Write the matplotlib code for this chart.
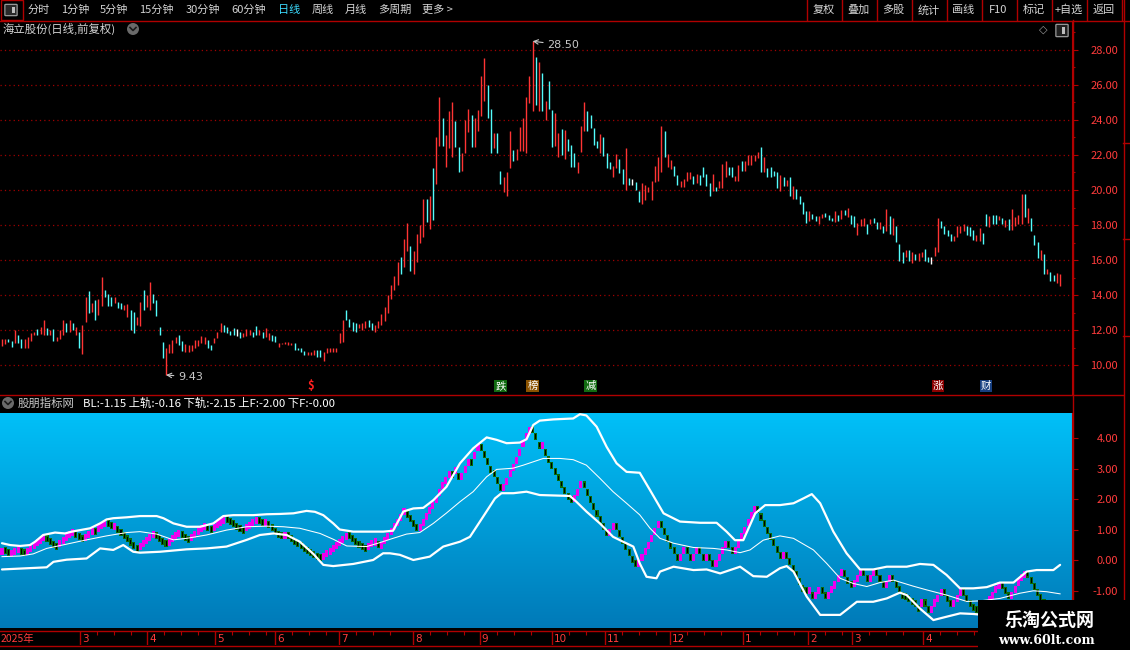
import numpy as np
import matplotlib
matplotlib.use("Agg")
import matplotlib.pyplot as plt
import matplotlib.transforms as mtransforms
from matplotlib.patches import Rectangle, Ellipse, FancyBboxPatch
from matplotlib.lines import Line2D
from matplotlib.ticker import FormatStrFormatter

plt.rcParams['font.family'] = ['Noto Sans CJK SC', 'DejaVu Sans']

# ---------------- daily bars (low / high / colour r=up c=down w=flat) ----------------
bar_low = [
    11.1, 11.2, 11.3, 11.05, 11.25, 11.25, 10.95, 10.95, 10.95, 11.4,
    11.7, 11.7, 11.8, 11.7, 11.7, 11.7, 11.35, 11.35, 11.5, 11.7,
    11.9, 11.9, 12.0, 11.7, 10.95, 10.65, 12.48, 12.95, 13.05, 12.57,
    12.86, 13.37, 13.9, 13.37, 13.37, 13.52, 13.24, 13.18, 13.14, 12.76,
    12.0, 11.85, 12.29, 12.23, 13.14, 13.33, 13.14, 13.52, 12.8, 11.71,
    10.38, 9.43, 10.67, 10.67, 11.24, 11.14, 10.82, 10.76, 10.76, 10.82,
    10.95, 11.09, 11.24, 11.2, 10.95, 10.86, 11.24, 11.52, 11.9, 11.9,
    11.81, 11.71, 11.71, 11.66, 11.52, 11.62, 11.66, 11.71, 11.62, 11.71,
    11.71, 11.52, 11.62, 11.43, 11.39, 11.33, 11.05, 11.2, 11.2, 11.14,
    11.14, 10.86, 10.86, 10.76, 10.57, 10.57, 10.57, 10.57, 10.44, 10.44,
    10.25, 10.7, 10.76, 10.76, 10.76, 11.28, 11.33, 12.57, 12.15, 11.96,
    11.9, 12.1, 12.0, 12.1, 12.2, 12.0, 11.9, 12.1, 12.3, 12.5,
    13.0, 13.8, 14.3, 14.6, 15.2, 15.6, 16.5, 15.4, 15.2, 15.9,
    17.0, 17.3, 18.2, 17.8, 18.3, 20.34, 22.53, 22.53, 21.33, 22.4,
    21.9, 22.44, 21.0, 21.07, 22.1, 23.3, 22.44, 22.44, 23.39, 24.2,
    25.07, 24.11, 22.13, 22.4, 22.13, 20.34, 19.87, 19.68, 21.26, 21.64,
    21.7, 22.21, 22.21, 22.1, 24.95, 24.53, 24.88, 24.53, 24.53, 24.0,
    24.63, 22.44, 22.53, 21.9, 22.02, 21.75, 22.21, 21.3, 21.3, 20.95,
    22.15, 23.39, 23.35, 23.54, 22.59, 22.4, 22.13, 21.96, 21.26, 21.2,
    20.72, 21.26, 20.95, 20.34, 20.0, 20.3, 20.3, 20.0, 19.3, 19.2,
    19.43, 19.9, 19.43, 20.44, 20.53, 21.0, 21.9, 21.3, 21.2, 20.82,
    20.29, 20.15, 20.19, 20.53, 20.63, 20.34, 20.38, 20.29, 20.76, 20.25,
    19.68, 19.92, 19.92, 20.1, 20.1, 20.73, 20.88, 20.77, 20.5, 20.54,
    21.11, 21.11, 21.45, 21.45, 21.64, 21.83, 21.01, 21.01, 20.73, 20.77,
    20.82, 20.1, 19.93, 20.25, 20.25, 19.68, 19.5, 19.46, 19.21, 18.64,
    18.11, 18.22, 18.36, 18.22, 18.07, 18.41, 18.45, 18.3, 18.22, 18.17,
    18.22, 18.32, 18.55, 18.45, 18.03, 17.88, 17.41, 17.97, 17.92, 17.46,
    18.07, 18.11, 17.75, 17.79, 17.54, 17.65, 17.46, 17.41, 17.03, 15.95,
    15.83, 16.17, 15.95, 15.83, 15.98, 15.95, 16.17, 15.95, 15.89, 15.8,
    16.25, 16.46, 17.84, 17.46, 17.35, 17.09, 17.09, 17.31, 17.54, 17.65,
    17.41, 17.35, 17.16, 17.09, 17.09, 16.9, 17.92, 17.88, 18.07, 18.07,
    18.26, 18.07, 17.88, 17.69, 17.69, 17.92, 18.07, 18.03, 18.45, 18.11,
    17.65, 16.84, 16.14, 15.98, 15.19, 15.19, 14.81, 14.81, 14.71, 14.5,
]
bar_high = [
    11.5, 11.5, 11.5, 11.4, 12.0, 11.7, 11.5, 11.5, 11.6, 11.85,
    11.9, 12.05, 12.2, 12.6, 12.1, 12.0, 12.05, 11.6, 12.0, 12.55,
    12.4, 12.55, 12.4, 12.2, 11.9, 12.3, 13.9, 14.25, 13.52, 13.7,
    13.8, 15.05, 14.3, 14.05, 13.9, 13.9, 13.58, 13.52, 13.43, 13.47,
    13.14, 13.05, 12.76, 13.62, 14.29, 14.0, 14.76, 14.06, 13.71, 12.15,
    11.33, 10.99, 11.2, 11.43, 11.62, 11.71, 11.39, 11.2, 11.14, 11.14,
    11.43, 11.43, 11.66, 11.62, 11.43, 11.14, 11.52, 11.9, 12.42, 12.29,
    12.19, 11.96, 12.1, 12.04, 11.9, 11.81, 12.04, 12.0, 11.9, 12.23,
    12.0, 11.9, 12.1, 11.81, 11.71, 11.66, 11.28, 11.28, 11.33, 11.33,
    11.28, 11.28, 11.0, 10.95, 10.8, 10.76, 10.76, 10.86, 10.86, 10.86,
    10.76, 10.95, 10.99, 10.99, 10.99, 11.81, 12.57, 13.14, 12.61, 12.48,
    12.42, 12.33, 12.4, 12.5, 12.6, 12.4, 12.3, 12.5, 12.9, 13.3,
    14.0, 14.6, 15.1, 15.9, 16.2, 17.2, 18.1, 16.8, 16.5, 17.5,
    18.0, 19.5, 19.5, 19.68, 21.26, 23.0, 25.3, 24.11, 23.16, 24.53,
    25.0, 23.92, 22.44, 22.1, 24.0, 24.6, 24.3, 24.11, 24.59, 26.53,
    27.52, 26.02, 24.63, 23.24, 23.28, 21.07, 20.72, 21.0, 23.35, 22.29,
    22.34, 23.62, 24.11, 25.3, 26.53, 28.5, 27.62, 27.3, 26.67, 25.07,
    26.25, 24.59, 24.38, 23.24, 23.47, 23.43, 22.9, 22.59, 22.1, 21.58,
    23.68, 25.0, 24.5, 24.3, 23.54, 22.82, 23.2, 23.0, 22.13, 21.58,
    21.39, 22.06, 21.75, 21.2, 22.4, 20.67, 20.61, 20.48, 19.96, 20.38,
    20.3, 20.15, 20.53, 21.35, 21.9, 23.68, 23.35, 22.06, 21.7, 21.39,
    20.88, 20.53, 20.63, 21.0, 21.0, 20.82, 20.91, 20.88, 21.3, 20.91,
    20.38, 20.91, 20.19, 20.54, 21.49, 21.68, 21.3, 21.3, 20.82, 21.45,
    21.68, 21.68, 22.02, 22.02, 22.02, 22.15, 22.44, 21.87, 21.26, 21.3,
    21.11, 21.01, 20.88, 20.77, 20.58, 20.73, 20.25, 20.03, 19.68, 19.31,
    18.79, 18.79, 18.64, 18.49, 18.49, 18.64, 18.68, 18.55, 18.41, 18.79,
    18.6, 18.83, 18.83, 18.98, 18.58, 18.49, 18.11, 18.34, 18.38, 18.03,
    18.34, 18.41, 18.2, 18.15, 17.92, 18.94, 18.49, 18.38, 17.92, 16.9,
    16.44, 16.55, 16.55, 16.44, 16.33, 16.4, 16.48, 16.63, 16.17, 16.17,
    16.74, 18.38, 18.22, 17.96, 17.69, 17.5, 17.35, 17.96, 17.96, 18.03,
    17.96, 17.88, 17.69, 17.41, 17.81, 17.54, 18.64, 18.49, 18.55, 18.55,
    18.49, 18.41, 18.26, 18.36, 18.93, 18.45, 18.6, 19.78, 19.78, 18.98,
    18.41, 17.41, 17.01, 16.55, 16.33, 15.47, 15.3, 15.13, 15.23, 15.19,
]
bar_col = ("rrccrccrrr" "rcrrcrcrrr" "crcrcrrcrc" "rrcccrccrr" "ccrrcrrccc"
           "crrrrccrrr" "rrrrccrrrc" "cccwcrrrcc" "rcrrccrrrr" "rccccrrrcc"
           "rrrrrrrccc" "crrrccrrrr" "rrrrcrrcrr" "rrcrcrrcrr" "rccrrrcrrr"
           "rccrccrrrc" "rrrrrrcrcr" "ccrrcrcccr" "rrccccrccc" "rrccrcwccr"
           "rrrrrrcrrc" "crrrrcrccc" "crcrrrccrr" "crrrrrcrcc" "ccrcrcrccc"
           "crccrrcccr" "crcrccrrrc" "rccrcrcrcc" "crcrcrrccw" "rrccccrrrr"
           "cccrrccrcc" "rcrcrrrrcr" "cccrcrccrr")

# ---------------- indicator: BL steps ----------------
bl_vals = [
    0.30, 0.33, 0.25, 0.22, 0.30, 0.35, 0.30, 0.24, 0.30, 0.40,
    0.48, 0.58, 0.66, 0.76, 0.70, 0.62, 0.52, 0.45, 0.55, 0.65,
    0.75, 0.85, 0.92, 0.86, 0.78, 0.70, 0.75, 0.85, 0.95, 0.95,
    1.05, 1.14, 1.22, 1.22, 1.15, 1.12, 1.02, 0.92, 0.82, 0.70,
    0.60, 0.48, 0.40, 0.45, 0.55, 0.66, 0.76, 0.86, 0.80, 0.72,
    0.62, 0.55, 0.60, 0.70, 0.80, 0.88, 0.85, 0.75, 0.68, 0.76,
    0.86, 0.95, 1.05, 1.12, 1.06, 1.00, 1.08, 1.16, 1.25, 1.32,
    1.34, 1.28, 1.20, 1.12, 1.04, 0.98, 1.06, 1.15, 1.24, 1.32,
    1.30, 1.24, 1.24, 1.16, 1.06, 0.96, 0.86, 0.80, 0.80, 0.80,
    0.72, 0.62, 0.55, 0.48, 0.40, 0.32, 0.25, 0.20, 0.14, 0.08,
    0.14, 0.22, 0.30, 0.38, 0.48, 0.58, 0.68, 0.78, 0.82, 0.72,
    0.62, 0.52, 0.44, 0.38, 0.46, 0.55, 0.60, 0.52,
    0.50, 0.66, 0.79, 0.94, 1.10, 1.23, 1.40, 1.60, 1.49, 1.37,
    1.21, 1.08, 1.08, 1.25, 1.45, 1.62, 1.80, 2.00, 2.22, 2.44,
    2.63, 2.80, 2.80, 2.94, 2.74, 2.74, 2.98, 3.20, 3.20, 3.45,
    3.70, 3.70, 3.48, 3.23, 2.98, 2.85, 2.63, 2.39, 2.39, 2.60,
    2.85, 3.05, 3.26, 3.53, 3.84, 4.06, 4.27, 4.30, 4.06, 3.78,
    3.78, 3.53, 3.29, 3.10, 2.90, 2.70, 2.50, 2.30, 2.10, 2.00,
    2.04, 2.22, 2.47, 2.47, 2.22, 1.98, 1.76, 1.55, 1.33, 1.11,
    0.91, 0.91, 1.11, 1.11, 0.89, 0.66, 0.45, 0.25, 0.03, -0.10,
    -0.10, 0.10,
    0.28, 0.50, 0.72, 0.94, 1.16, 1.16, 0.94, 0.72, 0.50, 0.31,
    0.10, 0.10, 0.31, 0.31, 0.10, 0.10, 0.31, 0.31, 0.10, 0.10,
    0.10, -0.10, -0.10, 0.10, 0.31, 0.53, 0.53, 0.33, 0.33, 0.53,
    0.77, 0.99, 1.23, 1.48, 1.67, 1.67, 1.42, 1.21, 0.99, 0.77,
    0.58, 0.36, 0.17, 0.17, 0.17, -0.04, -0.26, -0.48, -0.70, -0.92,
    -0.99, -0.99, -1.17, -1.17, -0.99, -0.99, -1.17, -1.17, -0.97, -0.81,
    -0.59, -0.40, -0.43, -0.65, -0.78, -0.76, -0.59, -0.40, -0.40, -0.59,
    -0.59, -0.40, -0.40, -0.59, -0.78, -0.78, -0.59, -0.59, -0.78, -0.97,
    -1.14, -1.19, -1.24, -1.35, -1.43, -1.57, -1.40, -1.40, -1.60, -1.60,
    -1.40, -1.24, -1.06, -1.06, -1.24, -1.43, -1.43, -1.24, -1.06, -1.06,
    -1.24, -1.43, -1.55, -1.60, -1.70, -1.60, -1.45, -1.30, -1.16, -0.97,
    -0.83, -0.83, -0.99, -1.17, -1.17, -0.95, -0.74, -0.55, -0.45, -0.45,
    -0.66, -0.87, -1.06, -1.22, -1.38, -1.55, -1.70, -1.85, -2.00, -2.10,
]

# bands, read at sample bars
upper_i = [0, 2.5, 5.6, 8.7, 10.3, 12.8, 16.5, 19.6, 21.7, 24.3, 27.4, 30.5, 32.5, 34.6, 38.8,
           42.9, 48.1, 50.2, 53.3, 57.4, 61.6, 65.7, 68.8, 71.9, 78.1, 82.3, 86.4, 90.6, 94.7,
           97.3, 99.9, 103, 105, 109.2, 113.4, 118.5, 121.6, 124.8, 127.9, 131, 134.1, 138.2,
           142.4, 146.5, 150.7, 153.8, 156.9, 161, 163.1, 165.2, 167.2, 171.4, 177.6, 179.7,
           181.7, 184.9, 188, 191.1, 194.2, 198.3, 201.5, 205.7, 210.8, 217.1, 222.2, 225.3,
           227.9, 230.5, 234.2, 237.3, 241.9, 246.1, 249.2, 251.8, 254.4, 258.5, 262.6, 266.8,
           270.9, 275.1, 281.3, 285.4, 289.6, 293.7, 297.9, 302, 306.2, 310.3, 314.5, 318.6,
           321.7, 326.9, 329]
upper_v = [0.56, 0.50, 0.47, 0.50, 0.61, 0.83, 0.91, 0.88, 0.94, 0.99, 1.05, 1.21, 1.34, 1.38, 1.41,
           1.45, 1.45, 1.38, 1.21, 1.10, 1.10, 1.21, 1.45, 1.48, 1.48, 1.51, 1.52, 1.54, 1.62,
           1.59, 1.48, 1.21, 1.01, 0.94, 0.94, 0.94, 0.97, 1.60, 1.70, 1.72, 1.97, 2.41,
           3.18, 3.67, 4.03, 3.95, 3.84, 3.86, 3.97, 4.44, 4.58, 4.62, 4.65, 4.79,
           4.75, 4.38, 3.72, 3.18, 2.90, 2.87, 2.30, 1.54, 1.27, 1.23, 1.23, 0.94,
           0.66, 0.66, 1.54, 1.81, 1.81, 1.87, 2.03, 2.17, 1.87, 0.94, 0.23, -0.30,
           -0.30, -0.21, -0.21, -0.12, -0.15, -0.48, -0.92, -0.92, -0.88, -0.73, -0.73, -0.37,
           -0.32, -0.32, -0.15]
mid_i = [0, 5.6, 9.7, 13.9, 20.1, 26.3, 32.5, 38.8, 42.9, 48.1, 53.3, 57.4, 63.6, 69.8, 76.1,
         82.3, 87.5, 92.6, 98.9, 103, 107.2, 113.4, 117.5, 121.6, 125.8, 129.9, 134.1, 138.2,
         142.4, 146.5, 150.7, 153.8, 158.9, 162.1, 165.2, 168.3, 173.5, 177.6, 181.7, 185.9,
         190, 194.2, 198.3, 201.5, 204.6, 208.8, 215, 221.2, 225.3, 229.5, 232.6, 236.7,
         241.9, 246.1, 252.3, 256.4, 260.6, 264.7, 268.9, 273, 277.2, 283.4, 287.5, 293.7,
         300, 304.1, 310.3, 316.5, 320.7, 324.8, 329]
mid_v = [0.12, 0.14, 0.21, 0.39, 0.53, 0.67, 0.80, 0.91, 0.94, 0.86, 0.67, 0.72, 0.83, 0.99, 1.10,
         1.12, 1.10, 1.05, 0.88, 0.69, 0.47, 0.45, 0.58, 0.72, 0.86, 0.91, 1.21, 1.55,
         1.92, 2.25, 2.74, 2.98, 3.02, 3.12, 3.23, 3.34, 3.34, 3.30, 3.12, 2.69,
         2.25, 1.87, 1.49, 1.05, 0.72, 0.56, 0.42, 0.39, 0.34, 0.25, 0.34, 0.66,
         0.80, 0.72, 0.34, -0.10, -0.59, -0.76, -0.86, -0.73, -0.65, -0.85, -0.97, -1.14,
         -1.35, -1.33, -1.25, -1.08, -1.00, -1.03, -1.10]
lower_i = [0, 13.9, 16, 20.1, 26.3, 30.5, 34.6, 37.7, 40.8, 42.9, 49.1, 57.4, 63.6, 69.8, 76.1,
           80.2, 84.4, 88.5, 92.6, 96.8, 99.9, 103, 109.2, 115.4, 118.5, 120.6, 123.7, 127.9,
           133, 137.2, 142.4, 145.5, 149.6, 153.3, 155.3, 159, 163.1, 167.2, 176.6, 178.6,
           181.7, 185.9, 190, 193.1, 196.3, 198.3, 200.4, 203.5, 204.6, 208.8, 215, 219.1,
           223.3, 229.5, 233.6, 237.8, 241.9, 244, 246.1, 250.2, 254.4, 260.6, 265.8, 270.9,
           275.1, 279.2, 281.3, 285.4, 289.6, 293.7, 297.9, 302, 304.1, 312, 320, 329]
lower_v = [-0.30, -0.23, -0.05, 0.02, 0.06, 0.39, 0.34, 0.50, 0.28, 0.25, 0.28, 0.36, 0.39, 0.45, 0.67,
           0.83, 0.88, 0.83, 0.61, 0.21, -0.15, -0.19, -0.12, 0.01, 0.23, 0.23, 0.18, 0.01,
           0.12, 0.45, 0.61, 0.77, 1.43, 2.03, 2.20, 2.20, 2.25, 2.14, 2.11, 1.92,
           1.60, 1.21, 0.77, 0.61, 0.45, -0.10, -0.54, -0.59, -0.37, -0.21, -0.32, -0.30,
           -0.43, -0.21, -0.52, -0.54, -0.26, -0.19, -0.37, -1.19, -1.79, -1.79, -1.36, -1.36,
           -1.25, -1.06, -1.14, -1.58, -1.96, -1.85, -1.74, -1.76, -1.78, -1.90, -2.05, -2.15]

# month boundaries (bar index) and labels
month_pos = [24.3, 45.2, 66.2, 84.9, 104.8, 127.8, 148.6, 171.0, 187.5, 207.7, 230.4, 250.6, 264.3, 286.4]
month_lab = ['3', '4', '5', '6', '7', '8', '9', '10', '11', '12', '1', '2', '3', '4']

# event tags under the price chart
event_bar = [96, 155, 165, 183, 291, 306]
event_txt = ['$', '跌', '榜', '减', '涨', '财']
event_bg = [None, '#116b11', '#8a5200', '#116b11', '#8b0000', '#173f80']

menu_txt = ['分时', '1分钟', '5分钟', '15分钟', '30分钟', '60分钟', '日线', '周线', '月线', '多周期', '更多 >']
menu_x = [28, 61, 100, 139, 186, 231, 278, 312, 345, 378, 422]
btn_txt = ['复权', '叠加', '多股', '统计', '画线', 'F10', '标记', '+自选', '返回']
btn_sep = [807, 841, 876, 911, 946, 981, 1016, 1051, 1086, 1121]

# ---------------- figure ----------------
W, H = 1130, 650
fig = plt.figure(figsize=(W / 100, H / 100), dpi=100, facecolor='black')

RED_LINE = '#b00000'
RED_TXT = '#ff3c3c'
GRAY_TXT = '#d4d4d4'


def fx(px):
    return px / W


def fy(py):
    return 1 - py / H


def px_axes(x0, y0, x1, y1):
    a = fig.add_axes([x0 / W, 1 - y1 / H, (x1 - x0) / W, (y1 - y0) / H])
    a.set_facecolor('black')
    return a


def fig_line(xs, ys, color=RED_LINE, lw=1.0):
    fig.add_artist(Line2D([fx(v) for v in xs], [fy(v) for v in ys], color=color, lw=lw,
                          transform=fig.transFigure))


n = len(bar_high)
assert len(bar_low) == n and len(bar_col) == n and len(bl_vals) == n
xb = np.arange(n)
XL = (-0.62, 332.7)

# ---------------- price panel ----------------
ax1 = px_axes(0, 21, 1072, 394)
ax1.set_xlim(*XL)
ax1.set_ylim(8.343, 29.657)
for s in ['top', 'left', 'bottom']:
    ax1.spines[s].set_visible(False)
ax1.spines['right'].set_color(RED_LINE)
ax1.set_xticks([])
ax1.yaxis.tick_right()
ax1.set_yticks(np.arange(10, 29, 2))
ax1.set_yticks(np.arange(11, 30, 2), minor=True)
ax1.yaxis.set_major_formatter(FormatStrFormatter('%.2f'))
ax1.tick_params(axis='y', which='major', colors=RED_LINE, labelcolor=RED_TXT, length=4.3,
                width=0.8, pad=28.8, labelsize=8)
ax1.tick_params(axis='y', which='minor', colors=RED_LINE, length=2.0, width=0.8)
for lab in ax1.get_yticklabels():
    lab.set_horizontalalignment('right')
for p in range(10, 29, 2):
    ax1.axhline(p, color='#a00000', lw=0.9, ls=(0, (1, 2.5)), zorder=1)

cmap = {'r': '#ff3434', 'c': '#54fcfc', 'w': '#ffffff'}
ax1.vlines(xb, bar_low, bar_high, colors=[cmap[c] for c in bar_col], lw=1.0, zorder=3)

ax1.annotate('28.50', xy=(165, 28.5), xytext=(10.5, -2.7), textcoords='offset points',
             color='#c8c8c8', fontsize=8, va='center', ha='left', family='DejaVu Sans',
             arrowprops=dict(arrowstyle='->', color='#c8c8c8', lw=0.8, shrinkA=1, shrinkB=0))
ax1.annotate('9.43', xy=(51, 9.43), xytext=(8.6, -1.4), textcoords='offset points',
             color='#c8c8c8', fontsize=8, va='center', ha='left', family='DejaVu Sans',
             arrowprops=dict(arrowstyle='->', color='#c8c8c8', lw=0.8, shrinkA=1, shrinkB=0))

trans = mtransforms.blended_transform_factory(ax1.transData, ax1.transAxes)
for b, t, bg in zip(event_bar, event_txt, event_bg):
    if bg is None:
        ax1.text(b, 0.022, t, transform=trans, color='#ff2020', fontsize=8, fontweight='bold',
                 ha='center', va='center')
    else:
        ax1.text(b, 0.022, t, transform=trans, color='white', fontsize=7.5, ha='center',
                 va='center', bbox=dict(boxstyle='square,pad=0.1', fc=bg, ec='none'))

# ---------------- indicator panel ----------------
ax2 = px_axes(0, 413, 1072, 628)
YL2 = (-2.22, 4.83)
grad = np.linspace(0, 1, 256)[:, None, None]
c_top = np.array([0, 192, 248]) / 255.0
c_bot = np.array([0, 122, 184]) / 255.0
img = c_top * (1 - grad) + c_bot * grad
ax2.imshow(img, extent=(XL[0], XL[1], YL2[0], YL2[1]), aspect='auto', origin='upper', zorder=0)
ax2.set_xlim(*XL)
ax2.set_ylim(*YL2)
for s in ['top', 'left', 'bottom']:
    ax2.spines[s].set_visible(False)
ax2.spines['right'].set_color(RED_LINE)
ax2.set_xticks([])
ax2.yaxis.tick_right()
ax2.set_yticks(np.arange(-1, 5, 1))
ax2.yaxis.set_major_formatter(FormatStrFormatter('%.2f'))
ax2.tick_params(axis='y', colors=RED_LINE, labelcolor=RED_TXT, length=4.3, width=0.8,
                pad=28.8, labelsize=8)
for lab in ax2.get_yticklabels():
    lab.set_horizontalalignment('right')

bl = np.array(bl_vals)
ups = []
for k, v in enumerate(bl):
    if k == 0:
        ups.append(True)
    elif v > bl[k - 1] + 0.04:
        ups.append(True)
    elif v < bl[k - 1] - 0.04:
        ups.append(False)
    else:
        ups.append(not ups[-1])
ups = np.array(ups)
dn = ~ups
BOX_H = 0.23
ax2.bar(xb[ups], BOX_H, bottom=bl[ups] - BOX_H / 2, width=0.95, color='#ee00ee', lw=0, zorder=3)
ax2.bar(xb[dn], BOX_H, bottom=bl[dn] - BOX_H / 2, width=0.95, color='#0a6a0a', lw=0, zorder=3)
ax2.bar(xb[dn], BOX_H - 0.07, bottom=bl[dn] - (BOX_H - 0.07) / 2, width=0.32, color='#000000',
        lw=0, zorder=4)

ax2.plot(upper_i, upper_v, color='white', lw=1.6, zorder=5, solid_capstyle='round')
ax2.plot(mid_i, mid_v, color='white', lw=0.75, zorder=5)
ax2.plot(lower_i, lower_v, color='white', lw=1.6, zorder=5, solid_capstyle='round')

# ---------------- date axis ----------------
ax3 = px_axes(0, 631, 1072, 645)
ax3.set_xlim(*XL)
ax3.set_ylim(0, 1)
ax3.axis('off')
ax3.vlines(month_pos, 0, 1, color=RED_LINE, lw=1.0)
bounds = list(month_pos) + [XL[1]]
for a, b in zip(bounds[:-1], bounds[1:]):
    t = a + 5.3
    while t < b - 2:
        ax3.vlines(t, 0.75, 1, color=RED_LINE, lw=0.8)
        t += 5.3
ax3.text(-0.3, 0.45, '2025年', color=RED_TXT, fontsize=7.5, va='center', ha='left')
for p, lab in zip(month_pos, month_lab):
    ax3.text(p + 0.6, 0.45, lab, color=RED_TXT, fontsize=7.5, va='center', ha='left',
             family='DejaVu Sans')

# ---------------- frame lines ----------------
fig_line([0, W], [20.5, 20.5])
fig_line([0, 1123], [394.5, 394.5])
fig_line([0, 1123], [630.5, 630.5])
fig_line([0, 1123], [645.5, 645.5])
fig_line([1072.5, 1072.5], [20, 646])
fig_line([1123.5, 1123.5], [0, H])
for yy in [142, 238, 335]:
    fig_line([1123, W], [yy + 0.5, yy + 0.5])

# ---------------- toolbar ----------------
fig.add_artist(Rectangle((fx(0.5), fy(20)), fx(22.5), 20 / H, transform=fig.transFigure,
                         fc='black', ec=RED_LINE, lw=1.0))
fig.add_artist(FancyBboxPatch((fx(6), fy(15)), fx(10), 10 / H, boxstyle='round,pad=0.001',
                              transform=fig.transFigure, fc='#2a2a2a', ec='#9a9a9a', lw=0.9))
fig.add_artist(Rectangle((fx(12), fy(13)), fx(3), 6 / H, transform=fig.transFigure,
                         fc='#bdbdbd', ec='none'))
for t, xp in zip(menu_txt, menu_x):
    fig.text(fx(xp), fy(10), t, color=('#3cdcff' if t == '日线' else GRAY_TXT), fontsize=8,
             va='center', ha='left')
for s in btn_sep:
    fig_line([s + 0.5, s + 0.5], [0, 20])
for t, a, b in zip(btn_txt, btn_sep[:-1], btn_sep[1:]):
    fig.text(fx((a + b) / 2), fy(10), t, color=GRAY_TXT, fontsize=8, va='center', ha='center')

# title rows
fig.text(fx(3), fy(29), '海立股份(日线,前复权)', color=GRAY_TXT, fontsize=8.2, va='center', ha='left')


def chevron_icon(cx, cy):
    fig.add_artist(Ellipse((fx(cx), fy(cy)), 12 / W, 12 / H, transform=fig.transFigure,
                           fc='#6a6a6a', ec='none'))
    fig.add_artist(Line2D([fx(cx - 3), fx(cx), fx(cx + 3)], [fy(cy - 1.5), fy(cy + 1.5), fy(cy - 1.5)],
                          color='#1a1a1a', lw=1.2, transform=fig.transFigure))


chevron_icon(133, 29)
chevron_icon(8, 403)
fig.text(fx(1043), fy(30), '◇', color='#9a9a9a', fontsize=8, va='center', ha='center',
         family='DejaVu Sans')
fig.add_artist(FancyBboxPatch((fx(1057), fy(36)), fx(10), 11 / H, boxstyle='round,pad=0.001',
                              transform=fig.transFigure, fc='#202020', ec='#9a9a9a', lw=0.9))
fig.add_artist(Rectangle((fx(1062), fy(34)), fx(3), 7 / H, transform=fig.transFigure,
                         fc='#bdbdbd', ec='none'))

fig.text(fx(18), fy(403), '股朋指标网', color='#c8c8c8', fontsize=8.2, va='center', ha='left')
fig.text(fx(83), fy(403), 'BL:-1.15 上轨:-0.16 下轨:-2.15 上F:-2.00 下F:-0.00', color='white',
         fontsize=8.2, va='center', ha='left')

# ---------------- watermark ----------------
fig.add_artist(Rectangle((fx(978), 0), fx(W - 978), 50 / H, transform=fig.transFigure,
                         fc='black', ec='none', zorder=10))
fig.text(fx(1050), fy(620), '乐淘公式网', color='white', fontsize=13, fontweight='bold',
         va='center', ha='center', zorder=11)
fig.text(fx(1046), fy(640), 'www.60lt.com', color='white', fontsize=9, fontweight='bold',
         va='center', ha='center', family='DejaVu Serif', zorder=11)

fig.savefig('out.png', dpi=100, facecolor='black')
